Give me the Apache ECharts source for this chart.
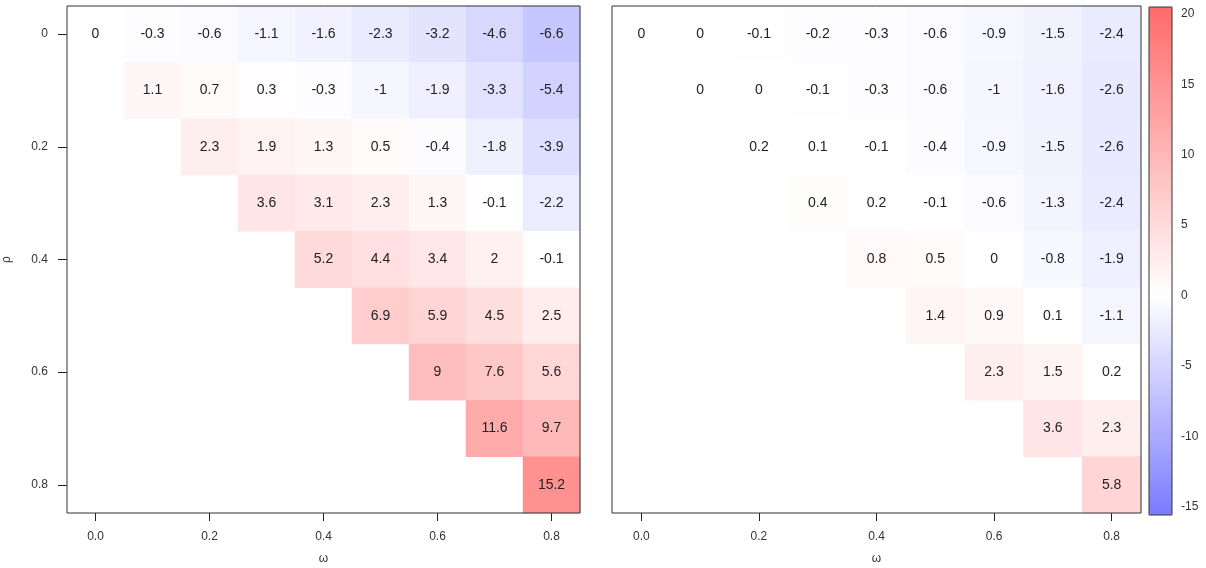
<!DOCTYPE html>
<html>
<head>
<meta charset="utf-8">
<script src="https://cdn.jsdelivr.net/npm/echarts@6/dist/echarts.min.js"></script>
<style>html,body{margin:0;padding:0;background:#fff}#c{width:1206px;height:568px}</style>
</head>
<body>
<div id="c"></div>
<script>
// ---- data ----
const omegaCats = ['0.0','0.1','0.2','0.3','0.4','0.5','0.6','0.7','0.8'];
const rhoCats = ['0','0.1','0.2','0.3','0.4','0.5','0.6','0.7','0.8'];
// rows: rho index, values start at column = row index (upper triangle)
const leftRows = [
  [0, -0.3, -0.6, -1.1, -1.6, -2.3, -3.2, -4.6, -6.6],
  [1.1, 0.7, 0.3, -0.3, -1, -1.9, -3.3, -5.4],
  [2.3, 1.9, 1.3, 0.5, -0.4, -1.8, -3.9],
  [3.6, 3.1, 2.3, 1.3, -0.1, -2.2],
  [5.2, 4.4, 3.4, 2, -0.1],
  [6.9, 5.9, 4.5, 2.5],
  [9, 7.6, 5.6],
  [11.6, 9.7],
  [15.2]
];
const rightRows = [
  [0, 0, -0.1, -0.2, -0.3, -0.6, -0.9, -1.5, -2.4],
  [0, 0, -0.1, -0.3, -0.6, -1, -1.6, -2.6],
  [0.2, 0.1, -0.1, -0.4, -0.9, -1.5, -2.6],
  [0.4, 0.2, -0.1, -0.6, -1.3, -2.4],
  [0.8, 0.5, 0, -0.8, -1.9],
  [1.4, 0.9, 0.1, -1.1],
  [2.3, 1.5, 0.2],
  [3.6, 2.3],
  [5.8]
];
const colorbarTicks = [-15, -10, -5, 0, 5, 10, 15, 20];
const scaleMin = -15.6, scaleMax = 20.5;

function toCells(rows) {
  const out = [];
  rows.forEach((r, i) => r.forEach((v, k) => out.push([i + k, i, v])));
  return out;
}

// palette: white at 0, blue below, red above
const blueEnd = [123, 123, 255], redEnd = [255, 107, 107];
function colorAt(v) {
  let t, e;
  if (v < 0) { t = v / scaleMin; e = blueEnd; } else { t = v / scaleMax; e = redEnd; }
  const c = e.map(x => Math.round(255 + (x - 255) * t));
  return 'rgb(' + c.join(',') + ')';
}
const palette = [];
const N = 241;
for (let i = 0; i < N; i++) palette.push(colorAt(scaleMin + (scaleMax - scaleMin) * i / (N - 1)));

const font = 'Liberation Sans, Arial, sans-serif';
const tickLbl = { fontSize: 12, color: '#333', fontFamily: font };
const every2 = (idx) => idx % 2 === 0;

function xAx(gi) {
  return {
    type: 'category', gridIndex: gi, data: omegaCats,
    name: 'ω', nameLocation: 'middle', nameGap: 40,
    nameTextStyle: { fontSize: 12, color: '#333', fontFamily: font },
    axisLine: { show: false },
    axisTick: { show: true, alignWithLabel: true, interval: every2, length: 8, lineStyle: { color: '#222' } },
    axisLabel: Object.assign({ interval: every2, margin: 18 }, tickLbl),
    splitLine: { show: false }
  };
}
const gridBase = { show: true, borderColor: '#333', borderWidth: 1, backgroundColor: 'transparent', z: 10, containLabel: false, outerBoundsMode: 'none' };
const option = {
  animation: false,
  backgroundColor: '#fff',
  grid: [
    Object.assign({ left: 67, top: 6, width: 513, height: 507 }, gridBase),
    Object.assign({ left: 612, top: 6, width: 529, height: 507 }, gridBase),
    Object.assign({ left: 1149, top: 7, width: 23, height: 508 }, gridBase)
  ],
  xAxis: [
    xAx(0), xAx(1),
    { type: 'value', gridIndex: 2, show: false, min: 0, max: 1 }
  ],
  yAxis: [
    {
      type: 'category', gridIndex: 0, data: rhoCats, inverse: true,
      name: 'ρ', nameLocation: 'middle', nameGap: 54, nameRotate: 90,
      nameTextStyle: { fontSize: 12, color: '#333', fontFamily: font },
      axisLine: { show: false },
      axisTick: { show: true, alignWithLabel: true, interval: every2, length: 9, lineStyle: { color: '#222' } },
      axisLabel: Object.assign({ interval: every2, margin: 19 }, tickLbl),
      splitLine: { show: false }
    },
    {
      type: 'category', gridIndex: 1, data: rhoCats, inverse: true,
      axisLine: { show: false }, axisTick: { show: false }, axisLabel: { show: false }, splitLine: { show: false }
    },
    {
      type: 'value', gridIndex: 2, position: 'right', min: scaleMin, max: scaleMax,
      axisLine: { show: false },
      splitLine: { show: false },
      axisTick: { show: true, length: 6, customValues: colorbarTicks, lineStyle: { color: '#222' } },
      axisLabel: Object.assign({ customValues: colorbarTicks, margin: 9 }, tickLbl)
    }
  ],
  visualMap: {
    type: 'continuous', min: scaleMin, max: scaleMax, seriesIndex: [0, 1],
    calculable: false, show: true, left: 1149, top: 7, itemWidth: 23, itemHeight: 508,
    padding: 0, text: null, showLabel: false, hoverLink: false,
    inRange: { color: palette }
  },
  series: [
    {
      type: 'heatmap', xAxisIndex: 0, yAxisIndex: 0, data: toCells(leftRows),
      label: { show: true, fontSize: 14, color: '#222', fontFamily: font, formatter: p => String(p.value[2]) },
      emphasis: { disabled: true }
    },
    {
      type: 'heatmap', xAxisIndex: 1, yAxisIndex: 1, data: toCells(rightRows),
      label: { show: true, fontSize: 14, color: '#222', fontFamily: font, formatter: p => String(p.value[2]) },
      emphasis: { disabled: true }
    }
  ]
};
const chart = echarts.init(document.getElementById('c'), null, { renderer: 'canvas' });
chart.setOption(option);
</script>
</body>
</html>
